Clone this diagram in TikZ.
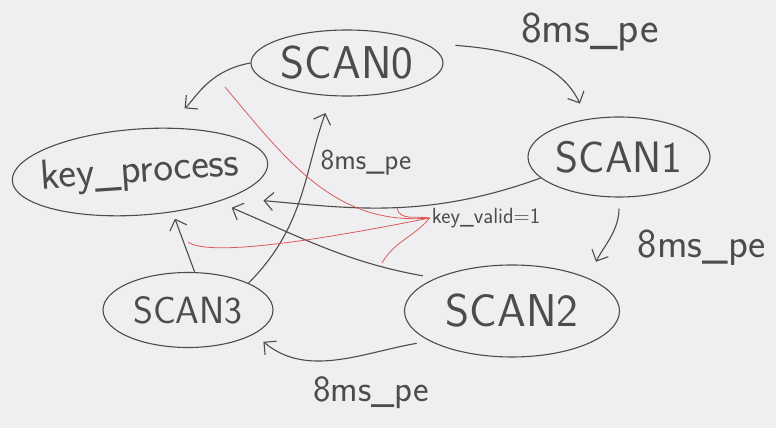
\documentclass[tikz,border=0pt]{standalone}
\usepackage{fontspec}
\usetikzlibrary{arrows.meta,shapes.geometric}

\definecolor{board}{HTML}{EFEFF1}
\definecolor{pen}{HTML}{4C4C4C}
\definecolor{redpen}{HTML}{DC5A5A}

\begin{document}
\begin{tikzpicture}[x=1pt,y=1pt,
		every node/.style={text=pen,inner sep=2pt},
		state/.style={ellipse,draw=pen,line width=1.1pt,inner xsep=-15pt,inner ysep=0pt},
		every edge/.style={draw=pen,line width=1.1pt,-{Straight Barb[length=9pt,width=18pt]}},
		hint/.style={draw=redpen,line width=0.8pt}]
			\fill[board] (0,0) rectangle (776,428);
			\useasboundingbox (0,0) rectangle (776,428);

			\node[state,minimum width=192pt,minimum height=66pt,font=\sffamily\fontsize{46}{50}\selectfont] (s0) at (347,365) {SCAN0};
			\node[state,minimum width=256pt,minimum height=86pt,rotate=4,font=\sffamily\fontsize{42}{46}\selectfont] (kp) at (140,256) {key\_process};
			\node[state,minimum width=182pt,minimum height=80pt,font=\sffamily\fontsize{44}{48}\selectfont] (s1) at (619,271) {SCAN1};
			\node[state,minimum width=215pt,minimum height=92pt,font=\sffamily\fontsize{46}{50}\selectfont] (s2) at (512,117) {SCAN2};
			\node[state,minimum width=170pt,minimum height=75pt,font=\sffamily\fontsize{38}{42}\selectfont] (s3) at (188,118) {SCAN3};

			\node[font=\sffamily\fontsize{44}{48}\selectfont] (l01) at (590,396) {8ms\_pe};
			\node[font=\sffamily\fontsize{41}{45}\selectfont] (l12) at (702,180) {8ms\_pe};
			\node[font=\sffamily\fontsize{37}{41}\selectfont] (l23) at (371,35) {8ms\_pe};
			\node[font=\sffamily\fontsize{29}{33}\selectfont] (l30) at (366,265) {8ms\_pe};
			\node[font=\sffamily\fontsize{22}{26}\selectfont] (kv) at (486,210) {key\_valid=1};

			\path (s0.west) edge[out=190,in=40,shorten >=30pt] (kp.60);
			\path (s0.15) edge[out=-5,in=115,shorten <=32pt,shorten >=17pt] (s1.130);
			\path (s1.south) edge[out=-90,in=65,shorten <=11pt,shorten >=18pt] (s2.north east);
			\path (s2.200) edge[out=190,in=-40,shorten <=13pt,shorten >=12pt] (s3.-20);
			\path (s3.north east) edge[out=45,in=-110,shorten >=18pt] (s0.-115);
			\path (s3.80) edge[shorten >=7pt] (kp.-55);
			\path (s1.195) edge[out=200,in=-5,shorten >=34pt] (kp.-20);
			\path (s2.north west) edge[out=170,in=-23,shorten <=13pt,shorten >=15pt] (kp.-25);

			% red pointers from the key_valid label
			\coordinate (v0) at (225,341);
			\coordinate (v1) at (397,220);
			\coordinate (v2) at (188,186);
			\coordinate (v3) at (382,165);
			\draw[hint] (kv.west) to[out=185,in=-50] (v0);
			\draw[hint] (kv.west) to[out=170,in=-80] (v1);
			\draw[hint] (kv.west) .. controls (330,190) and (210,170) .. (v2);
			\draw[hint] (kv.west) to[out=-130,in=60] (v3);
		\end{tikzpicture}
\end{document}
